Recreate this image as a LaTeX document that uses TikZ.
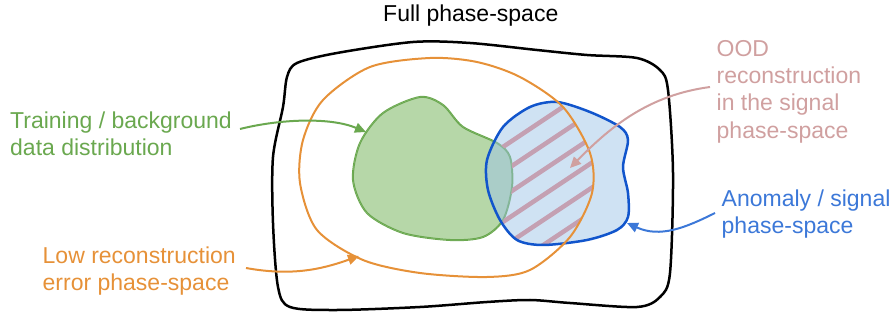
\documentclass[tikz,border=0pt]{standalone}
\usepackage{fontspec}
\setmainfont{Liberation Sans}
\usetikzlibrary{arrows.meta}
\definecolor{grline}{HTML}{6AA84F}
\definecolor{grfill}{HTML}{B6D7A8}
\definecolor{blline}{HTML}{1155CC}
\definecolor{blfill}{HTML}{9FC5E8}
\definecolor{bltext}{HTML}{3C78D8}
\definecolor{orline}{HTML}{E69138}
\definecolor{mauve}{RGB}{208,160,160}
\definecolor{stripe}{RGB}{196,160,178}
\def\blackpath{plot[smooth cycle] coordinates {(297,63) (337,53) (413,42) (470,43) (537,50) (587,55) (637,58) (660,70) (668,90) (673,173) (670,273) (660,297) (637,307) (570,303) (530,300) (487,302) (420,307) (337,310) (290,307) (278,287) (273,223) (273,157) (283,107) (287,77)}}
\def\orangepath{plot[smooth cycle] coordinates {(430,58) (370,67) (323,100) (303,140) (300,183) (317,230) (363,260) (420,273) (487,277) (530,270) (570,237) (592,193) (590,153) (563,107) (520,77) (477,62)}}
\def\greenpath{plot[smooth cycle] coordinates {(420,97) (443,105) (463,127) (497,143) (510,157) (512,187) (503,220) (483,237) (450,240) (403,233) (367,213) (353,180) (360,143) (383,113)}}
\def\bluepath{plot[smooth cycle] coordinates {(557,102) (590,112) (620,127) (628,140) (623,167) (628,193) (628,217) (617,230) (587,240) (543,245) (517,240) (500,220) (488,190) (487,160) (503,127) (530,107)}}
\tikzset{
  lbl/.style={anchor=north west, inner sep=0pt, align=left, font=\fontsize{23}{27.3}\selectfont},
  pointer/.style={line width=2pt, -{Triangle[length=11pt,width=10pt]}},
}
\begin{document}
\begin{tikzpicture}[x=1pt,y=-1pt]
\useasboundingbox (0,0) rectangle (894,320);
% outer
\draw[line width=2.5pt, black] \blackpath;
% green
\fill[grfill] \greenpath;
\draw[grline, line width=2pt] \greenpath;
% blue fill
\fill[blfill, fill opacity=0.5] \bluepath;
% stripes
\begin{scope}
  \clip \bluepath;
  \clip \orangepath;
  \foreach \k in {-6,...,12} {
    \draw[stripe, line width=4.5pt] (430, 482.3+25*\k-286.7) -- (730, 482.3+25*\k-486.7);
  }
\end{scope}
% redo overlap without stripes
\begin{scope}
  \clip \greenpath;
  \fill[grfill] \greenpath;
  \draw[grline, line width=2pt] \greenpath;
  \fill[blfill, fill opacity=0.5] \bluepath;
\end{scope}
\draw[blline, line width=2.5pt] \bluepath;
\draw[orline, line width=2pt] \orangepath;
% labels
\node[lbl] (full) at (383,5) {Full phase-space};
\node[lbl, text=grline] (train) at (10,111.7) {Training / background\\data distribution};
\node[lbl, text=orline] (low) at (42.5,246.7) {Low reconstruction\\error phase-space};
\node[lbl, text=mauve] (ood) at (716.5,40) {OOD\\reconstruction\\in the signal\\phase-space};
\node[lbl, text=bltext] (anom) at (721.5,189.3) {Anomaly / signal\\phase-space};
% arrow ends
\coordinate (gs) at (240,129);
\coordinate (ge) at (366,132);
\coordinate (os) at (246,268);
\coordinate (oe) at (359,256);
\coordinate (ms) at (710,87);
\coordinate (me) at (570,168);
\coordinate (bs) at (715,213);
\coordinate (be) at (627,223);
\draw[pointer, grline] (gs) .. controls (280,119) and (330,117) .. (ge);
\draw[pointer, orline] (os) .. controls (290,276) and (320,270) .. (oe);
\draw[pointer, mauve] (ms) .. controls (650,95) and (612,125) .. (me);
\draw[pointer, bltext] (bs) .. controls (685,228) and (660,238) .. (be);
\end{tikzpicture}
\end{document}
